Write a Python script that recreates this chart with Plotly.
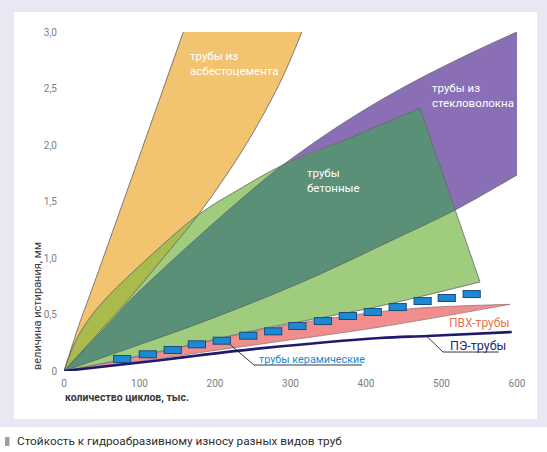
import plotly.graph_objects as go

# Оси
x_ticks = [0, 100, 200, 300, 400, 500, 600]
y_ticks = [0, 0.5, 1.0, 1.5, 2.0, 2.5, 3.0]
y_ticktext = ['0', '0,5', '1,0', '1,5', '2,0', '2,5', '3,0']

# Трубы из асбестоцемента (левая и правая границы)
asb_left_x = [0, 22, 32, 103, 158]
asb_left_y = [0, 0.45, 0.63, 1.96, 3.0]
asb_right_x = [0, 61, 85, 140, 177.5, 237, 286, 315]
asb_right_y = [0, 0.45, 0.63, 1.07, 1.38, 1.96, 2.55, 3.0]

# Трубы из стекловолокна
glass_up_x = [0, 65, 88, 180, 260, 290, 362, 444, 538, 600]
glass_up_y = [0, 0.46, 0.628, 1.2, 1.664, 1.823, 2.16, 2.49, 2.81, 3.0]
glass_low_x = [0, 90, 180, 313, 445, 518, 600]
glass_low_y = [0, 0.21, 0.425, 0.78, 1.19, 1.425, 1.735]

# Трубы бетонные
beton_up_x = [0, 15, 31, 54, 100, 177.5, 230, 290, 381, 471.5]
beton_up_y = [0, 0.26, 0.44, 0.63, 0.93, 1.38, 1.60, 1.823, 2.07, 2.327]
beton_low_x = [0, 90, 180, 273, 303, 418.5, 551]
beton_low_y = [0, 0.12, 0.25, 0.389, 0.425, 0.575, 0.788]

# точки пересечения границ
x_olive = 177.5    # асбестоцемент / бетон
x_dark = 290       # стекловолокно / бетон (верх)
x_corner = 518     # стекловолокно / бетон (правый край)

# ПВХ-трубы
pvc_up_x = [0, 90, 180, 273, 383, 471.5, 591]
pvc_up_y = [0, 0.115, 0.245, 0.38, 0.496, 0.558, 0.59]
pvc_low_x = [0, 127, 193, 273, 418.5, 591]
pvc_low_y = [0, 0.11, 0.175, 0.25, 0.389, 0.59]

# ПЭ-трубы
pe_x = [0, 127, 180, 260, 418.5, 481, 593]
pe_y = [0, 0.095, 0.14, 0.2, 0.292, 0.31, 0.345]

# Трубы керамические
cer_x = [77, 111, 144, 176, 209, 244, 277, 309, 343, 376, 409, 442, 475, 507, 540]
cer_y = [0.106, 0.148, 0.186, 0.236, 0.268, 0.312, 0.351, 0.398, 0.442, 0.487, 0.522, 0.566, 0.619, 0.646, 0.681]

W, H = 547, 452
L, R, T, B = 64, 30, 32, 81
FONT = 'Roboto, Arial, sans-serif'


def px_x(px):
    return (px - L) / (W - L - R)


def px_y(py):
    return (H - B - py) / (H - B - T)


def pts(xs, ys, lo=-1e9, hi=1e9):
    return [(x, y) for x, y in zip(xs, ys) if lo <= x <= hi]


def outline(*segs):
    # концы каждого куска повторяются, чтобы сплайн не скруглял углы
    out = []
    for seg in segs:
        out += [seg[0]] + seg + [seg[-1]]
    return [p[0] for p in out], [p[1] for p in out]


def area(segs, color):
    xs, ys = outline(*segs)
    return go.Scatter(x=xs, y=ys, mode='lines', fill='toself', fillcolor=color,
                      line=dict(width=0, shape='spline', simplify=False), hoverinfo='skip')


def edge(xs, ys, color='#5d6166', width=0.8, shape='spline'):
    return go.Scatter(x=xs, y=ys, mode='lines', hoverinfo='skip',
                      line=dict(color=color, width=width, shape=shape, simplify=False))


asb_l = pts(asb_left_x, asb_left_y)
asb_r = pts(asb_right_x, asb_right_y)
gl_u = pts(glass_up_x, glass_up_y)
gl_l = pts(glass_low_x, glass_low_y)
bt_u = pts(beton_up_x, beton_up_y)
bt_l = pts(beton_low_x, beton_low_y)
pv_u = pts(pvc_up_x, pvc_up_y)
pv_l = pts(pvc_low_x, pvc_low_y)

fig = go.Figure()

# заливки
fig.add_trace(area([asb_l, asb_r[::-1][:-1]], '#f3c470'))
fig.add_trace(area([gl_u, gl_l[::-1][:-1]], '#8a6fb6'))
fig.add_trace(area([bt_u, bt_l[::-1][:-1]], '#9fcd7d'))
fig.add_trace(area([pts(beton_up_x, beton_up_y, hi=x_olive),
                    pts(asb_right_x, asb_right_y, hi=x_olive)[::-1][:-1]], '#a9bb4c'))
fig.add_trace(area([pts(glass_up_x, glass_up_y, hi=x_dark),
                    pts(beton_up_x, beton_up_y, lo=x_dark),
                    pts(glass_low_x, glass_low_y, hi=x_corner)[::-1][:-1]], '#5a8f78'))
fig.add_trace(area([pv_u, pv_l[::-1][:-1]], '#ef8e8d'))

# контуры
fig.add_trace(edge(asb_left_x, asb_left_y))
fig.add_trace(edge(asb_right_x, asb_right_y))
fig.add_trace(edge(glass_up_x, glass_up_y))
fig.add_trace(edge(glass_low_x, glass_low_y))
bx, by = outline(bt_u, bt_l[::-1])
fig.add_trace(edge(bx, by))
px_, py_ = outline(pv_u, pv_l[::-1])
fig.add_trace(edge(px_, py_, '#8a6f78', 0.7))

# ПЭ
fig.add_trace(edge(pe_x, pe_y, '#1f1b6c', 2.6))

# выноски
fig.add_trace(edge([213, 251.7, 394.7], [0.274, 0.053, 0.053], '#222222', 0.9, 'linear'))
fig.add_trace(edge([480.8, 502, 576], [0.305, 0.168, 0.168], '#222222', 0.9, 'linear'))

# керамические трубы — прямоугольники
fig.add_trace(go.Scatter(x=cer_x, y=cer_y, mode='markers', hoverinfo='skip',
                         marker=dict(symbol='line-ew', size=13, color='#1d4a78',
                                     line=dict(width=8, color='#1d4a78'))))
fig.add_trace(go.Scatter(x=cer_x, y=cer_y, mode='markers', hoverinfo='skip',
                         marker=dict(symbol='line-ew', size=11.6, color='#1b8ad2',
                                     line=dict(width=6, color='#1b8ad2'))))

lbl = dict(family=FONT, size=11.5, color='white')
annotations = [
    dict(x=164, y=2.717, text='трубы из<br>асбестоцемента', xanchor='left', yanchor='middle',
         align='left', showarrow=False, font=lbl),
    dict(x=484.8, y=2.442, text='трубы из<br>стекловолокна', xanchor='left', yanchor='middle',
         align='left', showarrow=False, font=lbl),
    dict(x=319.2, y=1.69, text='трубы<br>бетонные', xanchor='left', yanchor='middle',
         align='left', showarrow=False, font=lbl),
    dict(x=507.5, y=0.425, text='ПВХ-трубы', xanchor='left', yanchor='middle', showarrow=False,
         font=dict(family=FONT, size=12, color='#e8734f')),
    dict(x=508, y=0.23, text='ПЭ-трубы', xanchor='left', yanchor='middle', showarrow=False,
         font=dict(family=FONT, size=12.5, color='#2a2870')),
    dict(x=255.6, y=0.106, text='трубы керамические', xanchor='left', yanchor='middle',
         showarrow=False, font=dict(family=FONT, size=10.8, color='#1b8ad2')),
    dict(x=px_x(63), y=px_y(397), xref='paper', yref='paper', text='<b>количество циклов, тыс.</b>',
         xanchor='left', yanchor='middle', showarrow=False,
         font=dict(family=FONT, size=10.5, color='#3a3a3a')),
    dict(x=px_x(37), y=px_y(372), xref='paper', yref='paper', text='величина истирания, мм',
         textangle=-90, xanchor='center', yanchor='bottom', showarrow=False,
         font=dict(family=FONT, size=11, color='#3a3a3a')),
    dict(x=px_x(15), y=px_y(441), xref='paper', yref='paper',
         text='Стойкость к гидроабразивному износу разных видов труб',
         xanchor='left', yanchor='middle', showarrow=False,
         font=dict(family=FONT, size=11.8, color='#2e2e2e')),
]

shapes = [
    dict(type='rect', xref='paper', yref='paper', layer='below', line=dict(width=0),
         fillcolor='#e8e8f5', x0=px_x(0), x1=px_x(547), y0=px_y(427), y1=px_y(0)),
    dict(type='rect', xref='paper', yref='paper', layer='below', line=dict(width=0),
         fillcolor='white', x0=px_x(14), x1=px_x(537), y0=px_y(419), y1=px_y(12)),
    dict(type='rect', xref='paper', yref='paper', layer='below', line=dict(width=0),
         fillcolor='#a0a0a0', x0=px_x(5), x1=px_x(9.5), y0=px_y(446), y1=px_y(437)),
]

tickfont = dict(family=FONT, size=10, color='#7d7d7d')
fig.update_layout(
    width=W, height=H,
    margin=dict(l=L, r=R, t=T, b=B),
    paper_bgcolor='white', plot_bgcolor='#e4e5e7',
    showlegend=False,
    annotations=annotations,
    shapes=shapes,
    xaxis=dict(range=[0, 600], tickvals=x_ticks, showgrid=True, gridcolor='white', gridwidth=1.2,
               zeroline=False, showline=False, tickfont=tickfont, ticklabelstandoff=5,
               fixedrange=True),
    yaxis=dict(range=[0, 3], tickvals=y_ticks, ticktext=y_ticktext, showgrid=True,
               gridcolor='white', gridwidth=1.2, zeroline=False, showline=False,
               tickfont=tickfont, ticklabelstandoff=6, fixedrange=True),
)

fig.write_html("out.html", config={'displayModeBar': False},
               post_script="document.body.style.margin='0px';")
